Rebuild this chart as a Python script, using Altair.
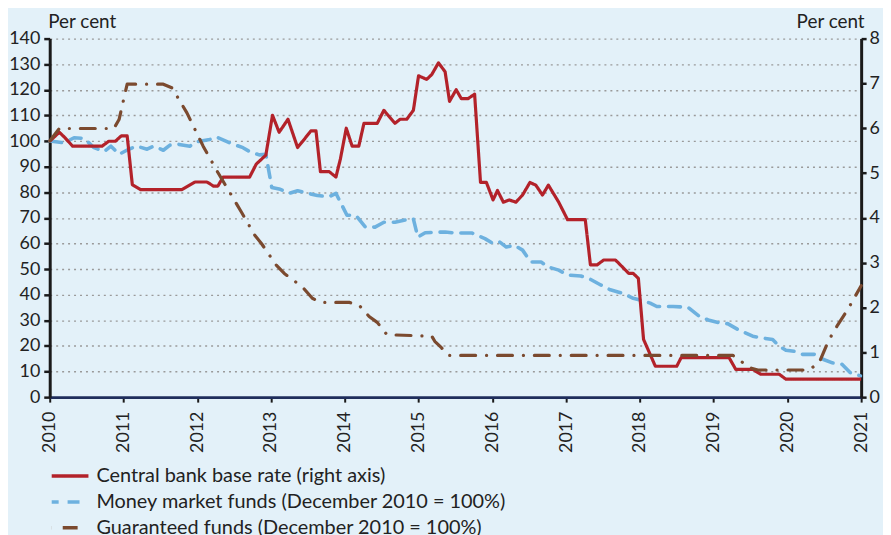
import altair as alt
import pandas as pd

SERIES = [
    "Central bank base rate (right axis)",
    "Money market funds (December 2010 = 100%)",
    "Guaranteed funds (December 2010 = 100%)",
]
COLORS = ["#B3222A", "#6DB1DF", "#7B4A2F"]
DASHES = [[1, 0], [12, 9], [15, 11, 0.1, 11]]

left_ticks = list(range(0, 141, 10))
right_ticks = list(range(0, 9))
year_ticks = list(range(2010, 2022))

# Central bank base rate, per cent (right axis)
rate_year = [2010.0, 2010.13, 2010.2, 2010.31, 2010.71, 2010.8, 2010.89, 2010.97, 2011.05, 2011.12,
             2011.23, 2011.79, 2011.97, 2012.13, 2012.22, 2012.28, 2012.35, 2012.71, 2012.8, 2012.93,
             2013.02, 2013.11, 2013.23, 2013.36, 2013.43, 2013.54, 2013.61, 2013.67, 2013.79, 2013.88,
             2013.94, 2014.02, 2014.1, 2014.19, 2014.26, 2014.44, 2014.53, 2014.68, 2014.75, 2014.84,
             2014.93, 2015.0, 2015.11, 2015.18, 2015.27, 2015.36, 2015.42, 2015.51, 2015.58, 2015.67,
             2015.76, 2015.84, 2015.92, 2016.01, 2016.07, 2016.15, 2016.23, 2016.32, 2016.41, 2016.51,
             2016.59, 2016.68, 2016.76, 2016.9, 2017.02, 2017.26, 2017.33, 2017.42, 2017.51, 2017.67,
             2017.76, 2017.85, 2017.91, 2017.98, 2018.05, 2018.21, 2018.5, 2018.56, 2019.21, 2019.3,
             2019.53, 2019.64, 2019.89, 2019.98, 2021.0]
rate_pct = [5.71, 5.91, 5.80, 5.60, 5.60, 5.71, 5.71, 5.83, 5.83, 4.74,
            4.63, 4.63, 4.80, 4.80, 4.71, 4.71, 4.91, 4.91, 5.20, 5.40,
            6.29, 5.91, 6.20, 5.57, 5.71, 5.94, 5.94, 5.03, 5.03, 4.91,
            5.31, 6.00, 5.60, 5.60, 6.11, 6.11, 6.40, 6.11, 6.20, 6.20,
            6.40, 7.17, 7.09, 7.20, 7.46, 7.26, 6.60, 6.86, 6.66, 6.66,
            6.76, 4.79, 4.79, 4.40, 4.61, 4.35, 4.40, 4.35, 4.51, 4.79,
            4.73, 4.51, 4.73, 4.35, 3.96, 3.96, 2.95, 2.95, 3.06, 3.06,
            2.91, 2.76, 2.76, 2.65, 1.29, 0.69, 0.69, 0.88, 0.88, 0.62,
            0.62, 0.51, 0.51, 0.40, 0.40]

# Money market funds, index Dec 2010 = 100 (left axis)
mmf_year = [2010.0, 2010.2, 2010.33, 2010.47, 2010.6, 2010.74, 2010.83, 2010.94, 2011.07, 2011.18,
            2011.32, 2011.41, 2011.54, 2011.63, 2011.75, 2011.9, 2011.99, 2012.17, 2012.26, 2012.44,
            2012.62, 2012.71, 2012.84, 2012.93, 2013.01, 2013.11, 2013.25, 2013.36, 2013.5, 2013.63,
            2013.79, 2013.88, 2014.03, 2014.15, 2014.28, 2014.41, 2014.53, 2014.68, 2014.88, 2014.93,
            2014.99, 2015.09, 2015.36, 2015.49, 2015.72, 2015.9, 2016.01, 2016.1, 2016.19, 2016.3,
            2016.41, 2016.52, 2016.66, 2016.75, 2016.9, 2017.02, 2017.2, 2017.33, 2017.47, 2017.6,
            2017.76, 2017.91, 2018.03, 2018.14, 2018.23, 2018.45, 2018.65, 2018.81, 2018.94, 2019.13,
            2019.19, 2019.35, 2019.53, 2019.66, 2019.8, 2019.89, 2019.98, 2020.09, 2020.2, 2020.38,
            2020.49, 2020.61, 2020.74, 2020.85, 2020.99]
mmf_index = [100.0, 99.3, 101.3, 101.0, 97.4, 95.9, 98.0, 94.8, 96.8, 98.0,
             96.8, 98.0, 96.4, 98.4, 98.7, 98.0, 99.7, 100.6, 101.6, 99.3,
             97.4, 95.9, 94.6, 94.8, 81.9, 81.3, 79.6, 80.6, 79.6, 78.7,
             78.3, 79.6, 71.0, 71.0, 66.4, 66.4, 68.3, 68.3, 69.6, 69.6,
             62.5, 64.2, 64.5, 64.1, 64.1, 61.9, 60.0, 60.6, 58.6, 59.3,
             57.4, 52.8, 52.8, 50.9, 49.6, 47.7, 47.3, 46.0, 43.8, 41.9,
             40.6, 38.6, 37.7, 36.7, 35.4, 35.4, 35.1, 31.5, 30.0, 28.7,
             28.7, 26.1, 23.8, 23.1, 22.5, 19.9, 18.3, 17.9, 16.7, 16.7,
             14.7, 13.4, 12.8, 9.6, 8.3]

# Guaranteed funds, index Dec 2010 = 100 (left axis)
gf_year = [2010.0, 2010.13, 2010.87, 2010.94, 2011.05, 2011.54, 2011.66, 2011.86, 2012.08, 2012.28,
           2012.44, 2012.6, 2012.78, 2012.87, 2013.07, 2013.18, 2013.43, 2013.56, 2013.67, 2014.06,
           2014.19, 2014.33, 2014.44, 2014.57, 2015.18, 2015.22, 2015.31, 2015.4, 2019.26, 2019.49,
           2019.6, 2020.29, 2020.43, 2020.56, 2020.67, 2020.83, 2021.0]
gf_index = [100.0, 104.9, 104.9, 108.4, 122.2, 122.2, 120.7, 111.0, 98.0, 87.7,
            80.0, 72.2, 63.2, 60.0, 51.6, 48.3, 42.9, 38.6, 37.0, 37.0,
            36.0, 31.5, 29.2, 24.4, 23.8, 21.8, 19.3, 16.3, 16.3, 11.5,
            10.6, 10.6, 13.4, 22.2, 27.6, 34.8, 43.5]


def frame(years, values, name):
    return pd.DataFrame({"year": years, "value": values, "series": name})


df_rate = frame(rate_year, rate_pct, SERIES[0])
df_mmf = frame(mmf_year, mmf_index, SERIES[1])
df_gf = frame(gf_year, gf_index, SERIES[2])

FONT = "Lato"
TXT = "#222222"
FS = 18

x_enc = alt.X(
    "year:Q",
    scale=alt.Scale(domain=[2010, 2021], nice=False, zero=False),
    axis=alt.Axis(
        values=year_ticks, format="d", labelAngle=-90, labelFlush=False, labelOverlap=False,
        grid=False, domainColor="#1F2E5C", domainWidth=3, tickColor="#1a1a1a", tickWidth=2,
        tickSize=5, labelPadding=9, labelFontSize=FS, labelFont=FONT, labelColor=TXT, title=None,
    ),
    title=None,
)

color_enc = alt.Color("series:N", scale=alt.Scale(domain=SERIES, range=COLORS), title=None)
dash_enc = alt.StrokeDash("series:N", scale=alt.Scale(domain=SERIES, range=DASHES), title=None)

left_axis = alt.Axis(
    orient="left", values=left_ticks, grid=True, gridColor="#9a9a9a", gridDash=[2, 4], gridWidth=1.4,
    domainColor="#1a1a1a", domainWidth=3, tickColor="#1a1a1a", tickWidth=2.5, tickSize=6,
    labelPadding=4, labelFontSize=FS, labelFont=FONT, labelColor=TXT, labelOverlap=False,
    title="Per cent", titleAngle=0, titleAlign="left", titleBaseline="middle", titleX=-2, titleY=-17,
    titleFontSize=19, titleFont=FONT, titleFontWeight="normal", titleColor=TXT,
)
right_axis = alt.Axis(
    orient="right", values=right_ticks, grid=False,
    domainColor="#1a1a1a", domainWidth=3, tickColor="#1a1a1a", tickWidth=2.5, tickSize=5,
    labelPadding=3, labelFontSize=FS, labelFont=FONT, labelColor=TXT, labelOverlap=False,
    title="Per cent", titleAngle=0, titleAlign="right", titleBaseline="middle", titleX=3, titleY=-17,
    titleFontSize=19, titleFont=FONT, titleFontWeight="normal", titleColor=TXT,
)

mmf = alt.Chart(df_mmf).mark_line(strokeWidth=3.6, strokeCap="round", strokeJoin="round").encode(
    x=x_enc,
    y=alt.Y("value:Q", scale=alt.Scale(domain=[0, 140], nice=False), axis=left_axis, title="Per cent"),
    color=color_enc,
    strokeDash=dash_enc,
)

rate = alt.Chart(df_rate).mark_line(strokeWidth=3.2, strokeJoin="round").encode(
    x=x_enc,
    y=alt.Y("value:Q", scale=alt.Scale(domain=[0, 8], nice=False), axis=right_axis, title="Per cent"),
    color=color_enc,
    strokeDash=dash_enc,
)

gf = alt.Chart(df_gf).mark_line(strokeWidth=3.2, strokeCap="round", strokeJoin="round").encode(
    x=x_enc,
    y=alt.Y("value:Q", scale=alt.Scale(domain=[0, 140], nice=False), axis=None),
    color=color_enc,
    strokeDash=dash_enc,
)

chart = (
    alt.layer(mmf, rate, gf)
    .resolve_scale(y="independent")
    .properties(
        width=817,
        height=361,
        autosize=alt.AutoSizeParams(type="none"),
        padding={"left": 42, "top": 29, "right": 22, "bottom": 137},
    )
    .configure(background="#E3F1F9", font=FONT)
    .configure_view(stroke=None)
    .configure_legend(
        orient="none", legendX=0, legendY=432, padding=0, rowPadding=5, clipHeight=17,
        labelFont=FONT, labelFontSize=20, labelColor=TXT, labelOffset=6, labelLimit=600,
        symbolType="stroke", symbolSize=1369, symbolStrokeWidth=3.5, symbolDashOffset=26,
        title=None,
    )
)

chart.save("out.html", embed_options={"renderer": "svg", "actions": False})
